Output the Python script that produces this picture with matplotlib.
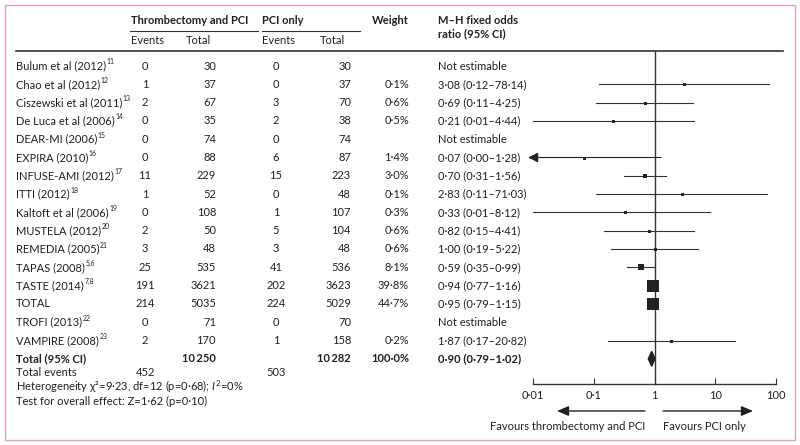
import numpy as np
import matplotlib.pyplot as plt
from matplotlib.patches import Rectangle, Polygon

plt.rcParams['font.family'] = ['Lato', 'DejaVu Sans']
plt.rcParams['mathtext.fontset'] = 'custom'
plt.rcParams['mathtext.rm'] = 'Lato'
plt.rcParams['mathtext.it'] = 'Lato:italic'
plt.rcParams['mathtext.bf'] = 'Lato:bold'

# study data
studies = ["Bulum et al (2012)", "Chao et al (2012)", "Ciszewski et al (2011)",
           "De Luca et al (2006)", "DEAR-MI (2006)", "EXPIRA (2010)",
           "INFUSE-AMI (2012)", "ITTI (2012)", "Kaltoft et al (2006)",
           "MUSTELA (2012)", "REMEDIA (2005)", "TAPAS (2008)", "TASTE (2014)",
           "TOTAL", "TROFI (2013)", "VAMPIRE (2008)"]
refs = ["11", "12", "13", "14", "15", "16", "17", "18", "19", "20", "21",
        "5,6", "7,8", "", "22", "23"]
thr_events = [0, 1, 2, 0, 0, 0, 11, 1, 0, 2, 3, 25, 191, 214, 0, 2]
thr_total = [30, 37, 67, 35, 74, 88, 229, 52, 108, 50, 48, 535, 3621, 5035, 71, 170]
pci_events = [0, 0, 3, 2, 0, 6, 15, 0, 1, 5, 3, 41, 202, 224, 0, 1]
pci_total = [30, 37, 70, 38, 74, 87, 223, 48, 107, 104, 48, 536, 3623, 5029, 70, 158]
weights = [np.nan, 0.1, 0.6, 0.5, np.nan, 1.4, 3.0, 0.1, 0.3, 0.6, 0.6, 8.1,
           39.8, 44.7, np.nan, 0.2]
odds = [np.nan, 3.08, 0.69, 0.21, np.nan, 0.07, 0.70, 2.83, 0.33, 0.82, 1.00,
        0.59, 0.94, 0.95, np.nan, 1.87]
ci_low = [np.nan, 0.12, 0.11, 0.01, np.nan, 0.00, 0.31, 0.11, 0.01, 0.15, 0.19,
          0.35, 0.77, 0.79, np.nan, 0.17]
ci_high = [np.nan, 78.14, 4.25, 4.44, np.nan, 1.28, 1.56, 71.03, 8.12, 4.41,
           5.22, 0.99, 1.16, 1.15, np.nan, 20.82]

pooled_thr_total, pooled_pci_total = 10250, 10282
pooled_events = [452, 503]
pooled_or, pooled_low, pooled_high = 0.90, 0.79, 1.02
axis_ticks = [0.01, 0.1, 1, 10, 100]
tick_labels = ["0·01", "0·1", "1", "10", "100"]

TXT = '#231f20'
FS = 8.0


def dot(s):
    return s.replace('.', '·')


fig = plt.figure(figsize=(8, 4.45), dpi=100)
ax = fig.add_axes([0, 0, 1, 1])
ax.set_xlim(0, 800)
ax.set_ylim(445, 0)
ax.axis('off')
renderer = fig.canvas.get_renderer()

# frame
ax.add_patch(Rectangle((5, 5), 790, 435, fill=False, edgecolor='#e3a3b6', lw=1))

# header
ax.text(131, 20, "Thrombectomy and PCI", fontsize=FS, fontweight='bold', color=TXT, va='center')
ax.text(262, 20, "PCI only", fontsize=FS, fontweight='bold', color=TXT, va='center')
ax.text(372, 20, "Weight", fontsize=FS, fontweight='bold', color=TXT, va='center')
ax.text(438, 20, "M–H fixed odds", fontsize=FS, fontweight='bold', color=TXT, va='center')
ax.text(438, 34, "ratio (95% CI)", fontsize=FS, fontweight='bold', color=TXT, va='center')
ax.plot([130, 258], [30.5, 30.5], color='#333333', lw=0.8)
ax.plot([262, 360], [30.5, 30.5], color='#333333', lw=0.8)
for x, s in [(131, "Events"), (186, "Total"), (262, "Events"), (320, "Total")]:
    ax.text(x, 41, s, fontsize=FS, color=TXT, va='center')
ax.plot([16, 783], [51, 51], color='#333333', lw=1.2)

row_y = 66 + np.arange(len(studies)) * 18.3

for i, y in enumerate(row_y):
    t = ax.text(16, y, studies[i], fontsize=FS, color=TXT, va='center')
    if refs[i]:
        bb = t.get_window_extent(renderer).transformed(ax.transData.inverted())
        ax.text(bb.x1 + 0.5, y - 4, refs[i], fontsize=FS * 0.62, color=TXT, va='center')
    ax.text(145, y, str(thr_events[i]), fontsize=FS, color=TXT, va='center', ha='center')
    ax.text(216, y, str(thr_total[i]), fontsize=FS, color=TXT, va='center', ha='right')
    ax.text(276, y, str(pci_events[i]), fontsize=FS, color=TXT, va='center', ha='center')
    ax.text(351, y, str(pci_total[i]), fontsize=FS, color=TXT, va='center', ha='right')
    if np.isnan(odds[i]):
        ax.text(438, y, "Not estimable", fontsize=FS, color=TXT, va='center')
    else:
        ax.text(409, y, dot(f"{weights[i]:.1f}%"), fontsize=FS, color=TXT, va='center', ha='right')
        ax.text(438, y, dot(f"{odds[i]:.2f} ({ci_low[i]:.2f}–{ci_high[i]:.2f})"),
                fontsize=FS, color=TXT, va='center')

y_tot = row_y[-1] + 18.3
ax.text(16, y_tot, "Total (95% CI)", fontsize=FS, fontweight='bold', color=TXT, va='center')
ax.text(216, y_tot, f"{pooled_thr_total:,}".replace(',', '\u2009'), fontsize=FS,
        fontweight='bold', color=TXT, va='center', ha='right')
ax.text(351, y_tot, f"{pooled_pci_total:,}".replace(',', '\u2009'), fontsize=FS,
        fontweight='bold', color=TXT, va='center', ha='right')
ax.text(409, y_tot, "100·0%", fontsize=FS, fontweight='bold', color=TXT, va='center', ha='right')
ax.text(438, y_tot, dot(f"{pooled_or:.2f} ({pooled_low:.2f}–{pooled_high:.2f})"),
        fontsize=FS, fontweight='bold', color=TXT, va='center')

ax.text(16, 373, "Total events", fontsize=FS, color=TXT, va='center')
ax.text(145, 373, str(pooled_events[0]), fontsize=FS, color=TXT, va='center', ha='center')
ax.text(276, 373, str(pooled_events[1]), fontsize=FS, color=TXT, va='center', ha='center')
ax.text(16, 387, "Heterogeneity χ²=9·23, df=12 (p=0·68); $\\mathit{I}^{\\mathregular{2}}$=0%",
        fontsize=FS, color=TXT, va='center')
ax.text(16, 401, "Test for overall effect: Z=1·62 (p=0·10)", fontsize=FS, color=TXT, va='center')

# forest plot on log axis
px_per_dec = 60.75
x_one = 654.5
left_px = x_one - 2.1 * px_per_dec
right_px = x_one + 2.1 * px_per_dec
fa = fig.add_axes([left_px / 800, 0, (right_px - left_px) / 800, 1])
fa.set_xscale('log')
fa.set_xlim(10 ** -2.1, 10 ** 2.1)
fa.set_ylim(445, 0)
fa.patch.set_visible(False)
for s in ['top', 'left', 'right']:
    fa.spines[s].set_visible(False)
fa.spines['bottom'].set_position(('data', 384))
fa.spines['bottom'].set_bounds(0.01, 100)
fa.spines['bottom'].set_color('#333333')
fa.spines['bottom'].set_linewidth(1)
fa.set_yticks([])
fa.set_xticks(axis_ticks)
fa.set_xticklabels(tick_labels)
fa.minorticks_off()
fa.tick_params(axis='x', direction='in', length=4, width=0.8, colors='#333333',
               labelsize=FS, labelcolor=TXT, pad=4)

fa.plot([1, 1], [51, 384], color='#333333', lw=1)

for i, y in enumerate(row_y):
    if np.isnan(odds[i]):
        continue
    lo = ci_low[i]
    if lo <= 0:
        fa.annotate("", xy=(10 ** -2.08, y), xytext=(ci_high[i], y),
                    arrowprops=dict(arrowstyle='-|>,head_length=0.6,head_width=0.3',
                                    color='#222222', lw=0.8, shrinkA=0, shrinkB=0))
    else:
        fa.plot([lo, ci_high[i]], [y, y], color='#333333', lw=0.8)
    side = max(3.0, 1.9 * np.sqrt(weights[i]))
    fa.plot(odds[i], y, marker='s', ms=side * 0.72, color='#222222', mew=0)

fa.add_patch(Polygon([(pooled_low, y_tot), (pooled_or, y_tot - 7.5),
                      (pooled_high, y_tot), (pooled_or, y_tot + 7.5)],
                     closed=True, color='#222222'))

# favours arrows
ax.annotate("", xy=(557, 411), xytext=(645, 411),
            arrowprops=dict(arrowstyle='-|>,head_length=0.7,head_width=0.3',
                            color='#222222', lw=1, shrinkA=0, shrinkB=0))
ax.annotate("", xy=(753, 411), xytext=(663, 411),
            arrowprops=dict(arrowstyle='-|>,head_length=0.7,head_width=0.3',
                            color='#222222', lw=1, shrinkA=0, shrinkB=0))
ax.text(645, 426, "Favours thrombectomy and PCI", fontsize=FS, color=TXT, va='center', ha='right')
ax.text(663, 426, "Favours PCI only", fontsize=FS, color=TXT, va='center', ha='left')

fig.savefig("out.png", dpi=100)
